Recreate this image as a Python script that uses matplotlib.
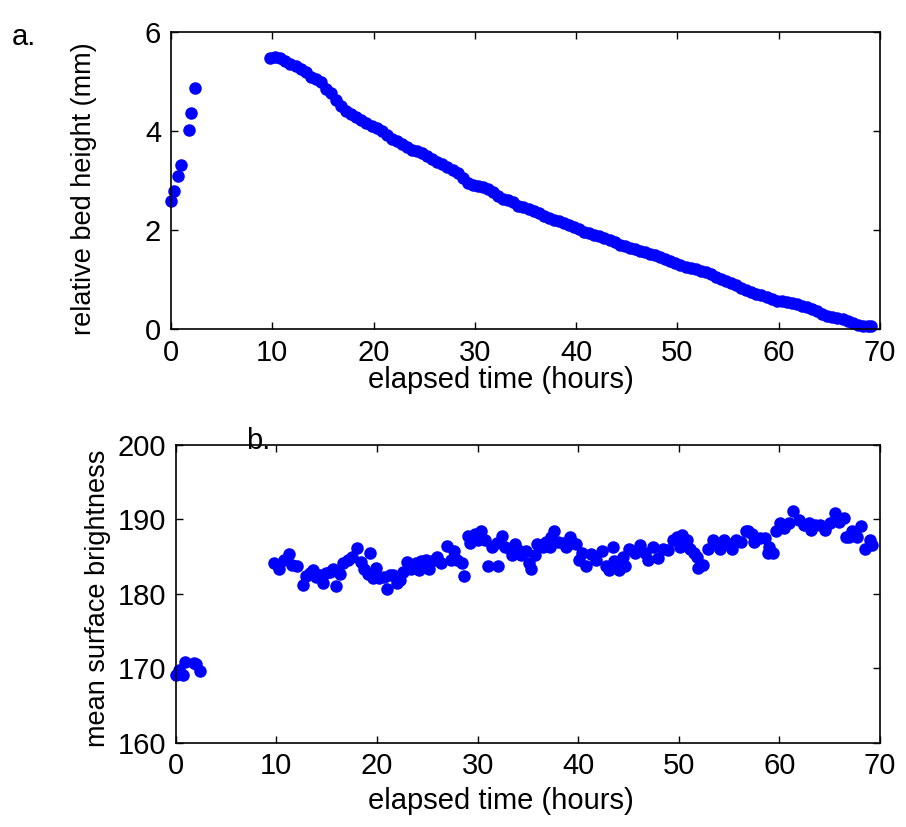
import matplotlib
matplotlib.use("Agg")
import matplotlib.pyplot as plt

plt.rcParams['font.family'] = ['Liberation Sans', 'DejaVu Sans']

# panel a: relative bed height (mm) vs elapsed time (hours)
t_early = [0.05, 0.3, 0.7, 0.97, 1.8, 1.97, 2.4]
h_early = [2.58, 2.78, 3.08, 3.30, 4.01, 4.35, 4.86]

t_bed = [9.8, 10.3, 10.8, 11.3, 11.8, 12.3, 12.8, 13.3, 13.8, 14.3, 14.8, 15.3,
         15.8, 16.3, 16.8, 17.3, 17.8, 18.3, 18.8, 19.3, 19.8, 20.3, 20.8, 21.3,
         21.8, 22.3, 22.8, 23.3, 23.8, 24.3, 24.8, 25.3, 25.8, 26.3, 26.8, 27.3,
         27.8, 28.3, 28.8, 29.3, 29.8, 30.3, 30.8, 31.3, 31.8, 32.3, 32.8, 33.3,
         33.8, 34.3, 34.8, 35.3, 35.8, 36.3, 36.8, 37.3, 37.8, 38.3, 38.8, 39.3,
         39.8, 40.3, 40.8, 41.3, 41.8, 42.3, 42.8, 43.3, 43.8, 44.3, 44.8, 45.3,
         45.8, 46.3, 46.8, 47.3, 47.8, 48.3, 48.8, 49.3, 49.8, 50.3, 50.8, 51.3,
         51.8, 52.3, 52.8, 53.3, 53.8, 54.3, 54.8, 55.3, 55.8, 56.3, 56.8, 57.3,
         57.8, 58.3, 58.8, 59.3, 59.8, 60.3, 60.8, 61.3, 61.8, 62.3, 62.8, 63.3,
         63.8, 64.3, 64.8, 65.3, 65.8, 66.3, 66.8, 67.3, 67.8, 68.3, 68.8, 69.1]
h_bed = [5.47, 5.48, 5.47, 5.40, 5.35, 5.30, 5.25, 5.18, 5.08, 5.04, 4.98, 4.85,
         4.76, 4.62, 4.50, 4.40, 4.33, 4.27, 4.21, 4.15, 4.10, 4.05, 4.00, 3.92,
         3.83, 3.79, 3.74, 3.67, 3.62, 3.58, 3.54, 3.48, 3.42, 3.37, 3.32, 3.26,
         3.21, 3.14, 3.04, 2.95, 2.91, 2.89, 2.86, 2.83, 2.77, 2.68, 2.63, 2.61,
         2.56, 2.49, 2.46, 2.42, 2.38, 2.33, 2.28, 2.23, 2.20, 2.18, 2.14, 2.10,
         2.06, 2.01, 1.96, 1.93, 1.90, 1.87, 1.83, 1.80, 1.75, 1.70, 1.67, 1.64,
         1.61, 1.58, 1.55, 1.52, 1.49, 1.45, 1.41, 1.37, 1.33, 1.29, 1.25, 1.22,
         1.20, 1.17, 1.14, 1.10, 1.05, 1.01, 0.97, 0.93, 0.88, 0.82, 0.78, 0.75,
         0.71, 0.68, 0.64, 0.60, 0.57, 0.56, 0.55, 0.53, 0.50, 0.47, 0.44, 0.40,
         0.36, 0.31, 0.27, 0.25, 0.23, 0.20, 0.16, 0.12, 0.08, 0.07, 0.06, 0.06]

# panel b: mean surface brightness vs elapsed time (hours)
tb_early = [0.0, 0.33, 0.73, 0.9, 1.82, 2.0, 2.38]
b_early = [169.1, 169.8, 169.1, 170.9, 170.7, 170.6, 169.7]

t_bright = [9.8, 10.3, 10.8, 11.3, 11.6, 12.1, 12.6, 12.9, 13.3, 13.6, 13.9, 14.3,
            14.6, 14.9, 15.3, 15.6, 15.9, 16.3, 16.6, 17.1, 17.5, 18.0, 18.4, 18.7,
            19.1, 19.3, 19.6, 19.9, 20.2, 20.7, 21.0, 21.3, 21.6, 22.0, 22.3, 22.6,
            23.0, 23.4, 23.9, 24.2, 24.4, 24.9, 25.2, 25.7, 26.0, 26.4, 27.0, 27.4,
            27.7, 28.0, 28.5, 28.7, 29.0, 29.2, 29.7, 30.0, 30.3, 30.7, 31.0, 31.4,
            31.9, 32.0, 32.4, 32.7, 33.2, 33.4, 33.7, 34.0, 34.3, 34.8, 35.1, 35.3,
            35.7, 35.9, 36.5, 36.8, 37.2, 37.3, 37.6, 38.0, 38.5, 38.8, 39.2, 39.5,
            39.8, 40.1, 40.4, 40.8, 41.3, 41.8, 42.4, 42.8, 43.1, 43.5, 43.6, 44.1,
            44.5, 44.7, 45.1, 45.6, 46.1, 46.6, 46.9, 47.4, 47.9, 48.4, 48.9, 49.4,
            49.8, 50.1, 50.3, 50.8, 51.1, 51.5, 51.8, 51.9, 52.4, 52.9, 53.4, 53.8,
            54.1, 54.5, 54.9, 55.3, 55.7, 56.2, 56.7, 56.9, 57.3, 57.5, 58.1, 58.6,
            58.9, 59.0, 59.4, 59.7, 60.1, 60.5, 61.0, 61.4, 61.9, 62.4, 62.9, 63.1,
            63.5, 64.0, 64.5, 65.0, 65.5, 65.9, 66.4, 66.6, 66.9, 67.2, 67.7, 68.1,
            68.5, 69.0, 69.2]
b_bright = [184.2, 183.4, 184.5, 185.3, 183.9, 183.7, 181.2, 182.4, 182.8, 183.2, 182.2, 182.5,
            181.5, 182.8, 182.9, 183.3, 181.0, 182.7, 184.1, 184.6, 184.9, 186.1, 184.3, 183.4,
            182.7, 185.5, 182.1, 183.5, 182.1, 182.2, 180.7, 182.5, 182.6, 181.5, 181.8, 183.0,
            184.3, 183.4, 184.1, 183.2, 184.4, 184.6, 183.4, 184.6, 184.9, 184.1, 186.4, 184.6,
            185.8, 184.6, 184.1, 182.4, 187.8, 186.9, 188.0, 187.2, 188.4, 187.2, 183.8, 186.3,
            186.8, 183.8, 187.8, 186.3, 186.0, 185.2, 186.7, 185.9, 185.2, 185.8, 184.1, 183.4,
            185.2, 186.7, 186.3, 187.0, 186.3, 187.7, 188.4, 187.0, 186.9, 186.3, 187.6, 186.8,
            186.7, 184.6, 185.5, 183.8, 185.4, 184.6, 185.8, 183.8, 183.2, 186.3, 184.4, 183.2,
            185.0, 183.8, 186.0, 185.5, 186.6, 185.5, 184.6, 186.3, 184.8, 186.0, 185.9, 187.3,
            187.7, 186.3, 187.9, 187.2, 186.0, 185.5, 184.9, 183.5, 183.9, 186.0, 187.2, 186.5,
            186.0, 187.2, 186.7, 186.0, 187.2, 187.0, 188.4, 188.4, 188.1, 187.0, 187.5, 187.5,
            185.5, 186.3, 185.5, 188.4, 189.5, 188.8, 189.5, 191.2, 189.9, 189.3, 189.5, 188.6,
            189.3, 189.3, 188.6, 189.5, 190.9, 189.7, 190.2, 187.7, 187.7, 188.4, 187.7, 189.1,
            186.0, 187.2, 186.6]

fig = plt.figure(figsize=(9.06, 8.27), dpi=100)
ax1 = fig.add_axes([0.1887, 0.6022, 0.7826, 0.3597])
ax2 = fig.add_axes([0.1940, 0.1019, 0.7773, 0.3600])

fs = 21
fs_y = 19.5
ms = 8
for ax in (ax1, ax2):
    ax.tick_params(direction='in', length=5, width=1, top=True, right=True,
                   labelsize=fs, pad=7)
    for sp in ax.spines.values():
        sp.set_linewidth(1.2)

ax1.plot(t_early, h_early, 'o', color='#0000ff', ms=ms, mec='#0000ff', clip_on=False)
ax1.plot(t_bed, h_bed, 'o', color='#0000ff', ms=ms, mec='#0000ff', clip_on=False)
ax1.set_xlim(0, 70)
ax1.set_ylim(0, 6)
ax1.set_xticks(range(0, 71, 10))
ax1.set_yticks([0, 2, 4, 6])
ax1.set_xlabel('elapsed time (hours)', fontsize=fs)
ax1.set_ylabel('relative bed height (mm)', fontsize=fs_y)
ax1.xaxis.set_label_coords(0.466, -0.125)
ax1.yaxis.set_label_coords(-0.104, 0.47)

ax2.plot(tb_early, b_early, 'o', color='#0000ff', ms=ms, mec='#0000ff', clip_on=False)
ax2.plot(t_bright, b_bright, 'o', color='#0000ff', ms=ms, mec='#0000ff', clip_on=False)
ax2.set_xlim(0, 70)
ax2.set_ylim(160, 200)
ax2.set_xticks(range(0, 71, 10))
ax2.set_yticks(range(160, 201, 10))
ax2.set_xlabel('elapsed time (hours)', fontsize=fs)
ax2.set_ylabel('mean surface brightness', fontsize=fs_y)
ax2.xaxis.set_label_coords(0.462, -0.15)
ax2.yaxis.set_label_coords(-0.092, 0.485)

fig.text(0.013, 0.955, 'a.', fontsize=fs, va='center')
fig.text(0.272, 0.467, 'b.', fontsize=fs, va='center')

fig.savefig('out.png', dpi=100)
